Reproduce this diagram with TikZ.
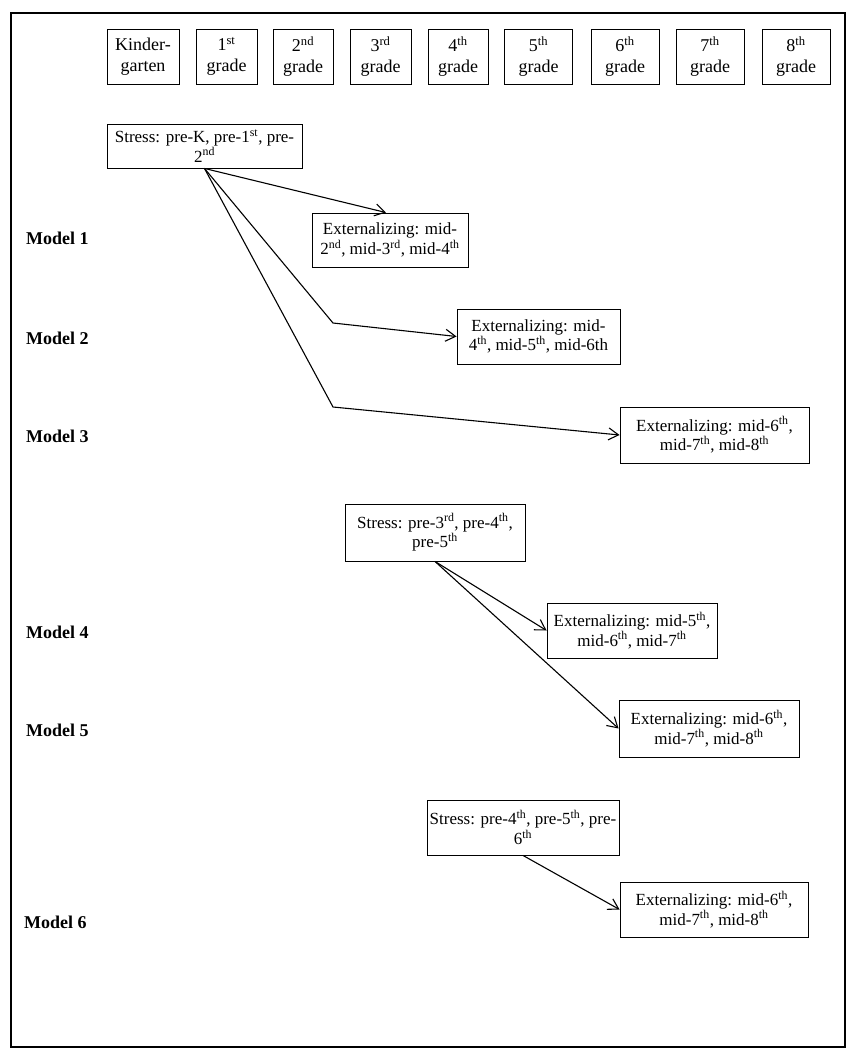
\documentclass[tikz,border=0pt]{standalone}
\usepackage{fontspec}
\setmainfont{Liberation Serif}
\usetikzlibrary{arrows.meta}
\begin{document}
\begin{tikzpicture}[x=1pt,y=-1pt,
 box/.style={draw, line width=0.9pt, inner sep=0pt, align=center, font=\fontsize{17}{19.5}\selectfont},
 gradebox/.style={box, minimum height=55pt, font=\fontsize{18}{21}\selectfont},
 conn/.style={line width=1.1pt, -{Straight Barb[length=10pt,width=12pt,line width=1.1pt]}},
 model/.style={anchor=west, inner sep=0pt, font=\fontsize{18}{20}\selectfont\bfseries}]
\useasboundingbox (0,0) rectangle (850,1050);
\draw[line width=1.2pt] (11,13) rectangle (845,1047);
% grade boxes
\node[gradebox, minimum width=72pt] (gk) at (143,56.5) {Kinder-\\garten};
\node[gradebox, minimum width=61pt] (g1) at (226.5,56.5) {1\textsuperscript{st}\\grade};
\node[gradebox, minimum width=60pt] (g2) at (303,56.5) {2\textsuperscript{nd}\\grade};
\node[gradebox, minimum width=61pt] (g3) at (380.5,56.5) {3\textsuperscript{rd}\\grade};
\node[gradebox, minimum width=60pt] (g4) at (458,56.5) {4\textsuperscript{th}\\grade};
\node[gradebox, minimum width=68pt] (g5) at (538.5,56.5) {5\textsuperscript{th}\\grade};
\node[gradebox, minimum width=68pt] (g6) at (625,56.5) {6\textsuperscript{th}\\grade};
\node[gradebox, minimum width=68pt] (g7) at (710,56.5) {7\textsuperscript{th}\\grade};
\node[gradebox, minimum width=68pt] (g8) at (796,56.5) {8\textsuperscript{th}\\grade};
% model labels
\node[model] (m1) at (26,238) {Model 1};
\node[model] (m2) at (26,338) {Model 2};
\node[model] (m3) at (26,436) {Model 3};
\node[model] (m4) at (26,632) {Model 4};
\node[model] (m5) at (26,730) {Model 5};
\node[model] (m6) at (24,922) {Model 6};
% stress boxes
\node[box, minimum width=195pt, minimum height=44pt] (s1) at (204.5,146) {Stress: pre-K, pre-1\textsuperscript{st}, pre-\\2\textsuperscript{nd}};
\node[box, minimum width=180pt, minimum height=57pt] (s2) at (435,532.5) {Stress: pre-3\textsuperscript{rd}, pre-4\textsuperscript{th},\\pre-5\textsuperscript{th}};
\node[box, minimum width=192pt, minimum height=55pt] (s3) at (523,827.5) {Stress: pre-4\textsuperscript{th}, pre-5\textsuperscript{th}, pre-\\6\textsuperscript{th}};
% externalizing boxes
\node[box, minimum width=156pt, minimum height=54pt] (e1) at (390,240) {Externalizing: mid-\\2\textsuperscript{nd}, mid-3\textsuperscript{rd}, mid-4\textsuperscript{th}};
\node[box, minimum width=163pt, minimum height=55pt] (e2) at (538.5,336.5) {Externalizing: mid-\\4\textsuperscript{th}, mid-5\textsuperscript{th}, mid-6th};
\node[box, minimum width=189pt, minimum height=56pt] (e3) at (714.5,435) {Externalizing: mid-6\textsuperscript{th},\\mid-7\textsuperscript{th}, mid-8\textsuperscript{th}};
\node[box, minimum width=170pt, minimum height=55pt] (e4) at (632,630.5) {Externalizing: mid-5\textsuperscript{th},\\mid-6\textsuperscript{th}, mid-7\textsuperscript{th}};
\node[box, minimum width=180pt, minimum height=57pt] (e5) at (709,728.5) {Externalizing: mid-6\textsuperscript{th},\\mid-7\textsuperscript{th}, mid-8\textsuperscript{th}};
\node[box, minimum width=188pt, minimum height=55pt] (e6) at (714,909.5) {Externalizing: mid-6\textsuperscript{th},\\mid-7\textsuperscript{th}, mid-8\textsuperscript{th}};
% connectors
\coordinate (b2) at (333,323);
\coordinate (b3) at (333,407);
\draw[conn] (s1.south) -- ([xshift=-4pt]e1.north);
\draw[conn] (s1.south) -- (b2) -- (e2.west);
\draw[conn] (s1.south) -- (b3) -- (e3.west);
\draw[conn] (s2.south) -- (e4.west);
\draw[conn] (s2.south) -- (e5.west);
\draw[conn] (s3.south) -- (e6.west);
\end{tikzpicture}
\end{document}
